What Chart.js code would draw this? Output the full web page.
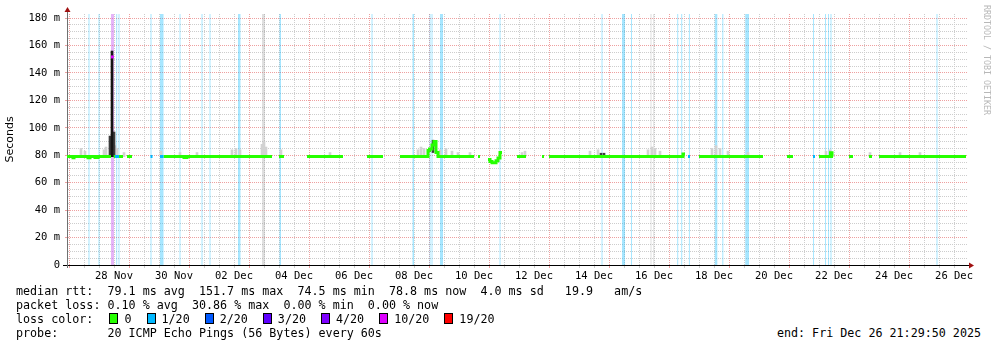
<!DOCTYPE html>
<html>
<head>
<meta charset="utf-8">
<title>smokeping 30 days</title>
<script src="https://cdn.jsdelivr.net/npm/chart.js@4.4.1/dist/chart.umd.min.js"></script>
<style>
  body { margin: 0; background: #fff; }
  #wrap { position: relative; width: 997px; height: 347px; overflow: hidden; background: #fff; }
  #graph { position: absolute; left: 0; top: 0; }
  .txt { position: absolute; left: 16px; font-family: "DejaVu Sans Mono", monospace; font-size: 11.7px; line-height: 14px; white-space: pre; color: #000; }
  .box { display: inline-block; width: 7px; height: 9px; border: 1px solid #000; vertical-align: -1px; margin-right: 6px; }
  .item { margin-right: 15px; }
  .item:first-of-type { margin-left: 2px; }
  #end { left: auto; right: 16px; }
  #credit { position: absolute; left: 982px; top: 5px; writing-mode: vertical-rl; font: 8.3px "DejaVu Sans Mono", monospace; color: #b8b8b8; }
</style>
</head>
<body>
<div id="wrap">
  <canvas id="graph" width="997" height="285"></canvas>
  <div id="credit">RRDTOOL / TOBI OETIKER</div>
  <div class="txt" style="top:284px">median rtt:  79.1 ms avg  151.7 ms max  74.5 ms min  78.8 ms now  4.0 ms sd   19.9   am/s</div>
  <div class="txt" style="top:298px">packet loss: 0.10 % avg  30.86 % max  0.00 % min  0.00 % now</div>
  <div class="txt" id="losscolor" style="top:312px">loss color:  </div>
  <div class="txt" style="top:326px">probe:       20 ICMP Echo Pings (56 Bytes) every 60s</div>
  <div class="txt" id="end" style="top:326px">end: Fri Dec 26 21:29:50 2025</div>
</div>
<script>
// x values are days counted from 1 Nov (so 31 = 1 Dec)
const xMin = 26.4, xMax = 56.433;
const yTop = 183;

const dayLabels = ["28 Nov", "30 Nov", "02 Dec", "04 Dec", "06 Dec", "08 Dec", "10 Dec", "12 Dec",
  "14 Dec", "16 Dec", "18 Dec", "20 Dec", "22 Dec", "24 Dec", "26 Dec"];
const rttLabels = ["0", "20 m", "40 m", "60 m", "80 m", "100 m", "120 m", "140 m", "160 m", "180 m"];

const lossLevels = ["0", "1/20", "2/20", "3/20", "4/20", "10/20", "19/20"];
const lossColors = ["#26ff00", "#00b8ff", "#0059ff", "#5e00ff", "#7e00ff", "#dd00ff", "#ff0000"];

// periods with packet loss [from, to]
const lossBands1 = [
  [27.117, 27.15], [27.45, 27.483], [28.04, 28.073], [28.117, 28.15], [29.183, 29.217],
  [29.5, 29.617], [30.15, 30.183], [30.883, 30.917], [31.15, 31.183], [32.1, 32.183],
  [33.483, 33.533], [36.55, 36.583], [37.917, 37.967], [38.483, 38.517],
  [38.55, 38.583], [38.833, 38.933], [40.817, 40.85], [44.217, 44.25], [44.9, 45.0],
  [45.2, 45.233], [46.74, 46.773], [46.873, 46.907],
  [47.13, 47.163], [47.993, 48.077], [48.243, 48.277], [49.007, 49.133], [51.267, 51.3],
  [51.667, 51.7], [51.767, 51.8], [51.85, 51.883], [55.383, 55.417]
];
const lossBands10 = [[27.867, 27.967]];
// periods the probe reported nothing usable
const unknownBands = [[32.9, 33.0], [45.85, 45.883], [45.94, 45.973]];

// median rtt in ms, one list per loss level, split where there is no data
const medianLoss0 = [
  [[26.4, 79.1], [26.6, 78.2], [26.633, 79.1], [27.1, 78.2], [27.167, 79.1], [27.333, 78.3], [27.433, 79.1], [27.867, 79.1]],
  [[27.957, 79.1], [28.0, 79.1]],
  [[28.133, 79.1], [28.267, 79.1]],
  [[28.4, 79.1], [28.567, 79.1]],
  [[29.617, 79.1], [30.3, 78.4], [30.4, 79.1], [33.233, 79.1]],
  [[33.467, 79.1], [33.633, 79.1]],
  [[34.4, 79.1], [35.6, 79.1]],
  [[36.4, 79.1], [36.933, 79.1]],
  [[37.5, 79.1], [38.433, 83.5], [38.483, 84.5], [38.567, 87.5], [38.633, 90], [38.7, 82], [38.767, 79.1], [39.967, 79.1]],
  [[40.1, 79.1], [40.167, 79.1]],
  [[40.433, 77], [40.5, 75.5], [40.567, 74.5], [40.7, 76], [40.767, 78], [40.833, 82], [40.9, 82]],
  [[41.4, 79.1], [41.7, 79.1]],
  [[42.233, 79.1], [42.3, 79.1]],
  [[42.467, 79.1], [46.933, 81], [47.0, 81]],
  [[47.467, 79.1], [49.6, 79.1]],
  [[50.4, 79.1], [50.6, 79.1]],
  [[51.467, 79.1], [51.85, 81.8], [51.9, 79.1], [51.933, 79.1]],
  [[52.467, 79.1], [52.6, 79.1]],
  [[53.133, 79.1], [53.233, 79.1]],
  [[53.467, 79.1], [56.367, 79.1]]
];
const medianLoss1 = [
  [[28.0, 79.1], [28.133, 79.1]],
  [[29.183, 79.1], [29.25, 79.1]],
  [[29.5, 79.1], [29.617, 79.1]],
  [[47.1, 79.1], [47.167, 79.1]],
  [[51.267, 79.1], [51.333, 79.1]]
];
const medianLoss10 = [
  [[27.867, 151.7], [27.957, 151.7]]
];

// ping spread around the median [time, low, high]
const smokeLight = [
  [26.867, 79, 85], [27.0, 79, 83], [27.633, 79, 84], [27.7, 79, 86], [28.0, 79, 87], [28.067, 79, 85],
  [28.3, 79, 82], [29.533, 79, 83], [30.167, 79, 82], [30.733, 79, 82], [31.9, 79, 84], [32.033, 79, 85],
  [32.167, 79, 84], [32.9, 79, 88], [32.967, 79, 90], [33.033, 79, 86], [33.533, 79, 84], [35.167, 79, 82],
  [38.1, 79, 84], [38.2, 79, 86], [38.3, 79, 85], [38.833, 79, 84], [39.033, 79, 85], [39.233, 79, 83],
  [39.433, 79, 82], [39.833, 79, 82], [41.567, 79, 82], [41.667, 79, 83], [43.833, 79, 83], [44.1, 79, 84],
  [45.767, 79, 84], [45.9, 79, 86], [46.0, 79, 85], [46.167, 79, 83], [47.9, 79, 85], [48.033, 79, 87],
  [48.167, 79, 85], [48.433, 79, 83], [49.1, 79, 82], [51.7, 79, 83], [51.833, 79, 84], [53.167, 79, 82],
  [54.167, 79, 82], [54.833, 79, 82]
];
const smokeDark = [
  [27.833, 79, 94], [27.967, 79, 97], [27.9, 79, 156], [38.6, 82, 91], [44.2, 79.5, 81.5], [44.3, 79.5, 81.5]
];

const majorGrid = "#eea0a0";
const minorGrid = "#cdcdcd";

function toPoints(segments) {
  const pts = [];
  segments.forEach((seg, i) => {
    if (i > 0) pts.push({ x: seg[0][0], y: null });
    seg.forEach(p => pts.push({ x: p[0], y: p[1] }));
  });
  return pts;
}

function bandPoints(bands) {
  const pts = [{ x: xMin, y: 0 }];
  bands.forEach(b => {
    pts.push({ x: b[0], y: yTop });
    pts.push({ x: b[1], y: 0 });
  });
  pts.push({ x: xMax, y: 0 });
  return pts;
}

function medianSet(segments, color) {
  return {
    type: "line", data: toPoints(segments), stepped: true, borderColor: color, borderWidth: 3,
    borderCapStyle: "butt", pointRadius: 0, fill: false, spanGaps: false, order: 1
  };
}

function bandSet(bands, fillColor) {
  return {
    type: "line", data: bandPoints(bands), stepped: true, borderColor: "transparent", borderWidth: 0,
    backgroundColor: fillColor, fill: "origin", pointRadius: 0, order: 3
  };
}

const smokePts = smokeLight.map(s => ({ x: s[0], y: [s[1], s[2]] }))
  .concat(smokeDark.map(s => ({ x: s[0], y: [s[1], s[2]] })));
const smokeCols = smokeLight.map(() => "#d2d2d2").concat(smokeDark.map(s => s[2] > 120 ? "#141414" : "#3c3c3c"));

// legend boxes
const lc = document.getElementById("losscolor");
lossLevels.forEach((lvl, i) => {
  const span = document.createElement("span");
  span.className = "item";
  span.innerHTML = '<span class="box" style="background:' + lossColors[i] + '"></span>' + lvl;
  lc.appendChild(span);
});

const xTickValues = [];
for (let v = 26.467; v <= xMax; v += 0.5) xTickValues.push(v);
const yTickValues = [];
for (let v = 0; v <= 180; v += 5) yTickValues.push(v);

const axisArrows = {
  id: "axisArrows",
  afterDraw(chart) {
    const { ctx, chartArea: a } = chart;
    ctx.save();
    ctx.strokeStyle = "#000";
    ctx.lineWidth = 1;
    ctx.beginPath();
    ctx.moveTo(a.left - 4, a.bottom + 0.5); ctx.lineTo(a.left, a.bottom + 0.5);
    ctx.moveTo(a.right, a.bottom + 0.5); ctx.lineTo(a.right + 2, a.bottom + 0.5);
    ctx.stroke();
    ctx.strokeStyle = "#707070";
    ctx.beginPath();
    ctx.moveTo(a.left + 0.5, a.top - 3); ctx.lineTo(a.left + 0.5, a.top);
    ctx.moveTo(a.left + 0.5, a.bottom); ctx.lineTo(a.left + 0.5, a.bottom + 3);
    ctx.stroke();
    ctx.fillStyle = "#a01010";
    ctx.beginPath();
    ctx.moveTo(a.left - 2.5, a.top - 2); ctx.lineTo(a.left + 0.5, a.top - 7); ctx.lineTo(a.left + 3.5, a.top - 2);
    ctx.closePath(); ctx.fill();
    ctx.beginPath();
    ctx.moveTo(a.right + 1, a.bottom - 2.5); ctx.lineTo(a.right + 6, a.bottom + 0.5); ctx.lineTo(a.right + 1, a.bottom + 3.5);
    ctx.closePath(); ctx.fill();
    ctx.restore();
  }
};

new Chart(document.getElementById("graph"), {
  type: "line",
  data: {
    datasets: [
      medianSet(medianLoss10, lossColors[5]),
      medianSet(medianLoss1, lossColors[1]),
      medianSet(medianLoss0, lossColors[0]),
      {
        type: "bar", data: smokePts, backgroundColor: smokeCols, borderWidth: 0,
        barThickness: 2, grouped: true, order: 2
      },
      bandSet(lossBands10, "rgba(200, 90, 240, 0.45)"),
      bandSet(unknownBands, "rgba(150, 150, 150, 0.3)"),
      bandSet(lossBands1, "rgba(0, 184, 255, 0.35)")
    ]
  },
  options: {
    responsive: false,
    animation: false,
    devicePixelRatio: 1,
    layout: { padding: { left: 0, top: 14, right: 29, bottom: 0 } },
    plugins: { legend: { display: false }, tooltip: { enabled: false } },
    scales: {
      x: {
        type: "linear", min: xMin, max: xMax, offset: false, z: 1,
        afterBuildTicks: s => { s.ticks = xTickValues.map(v => ({ value: v })); },
        afterFit: s => { s.height = 20; },
        grid: {
          offset: false, lineWidth: 1, tickLength: 3,
          color: c => c.index % 4 === 0 ? majorGrid : minorGrid,
          tickColor: c => c.index % 4 === 0 ? majorGrid : minorGrid
        },
        border: { color: "#000", width: 1, dash: [1, 1] },
        ticks: {
          autoSkip: false, maxRotation: 0, padding: 2, color: "#000",
          font: { family: "DejaVu Sans Mono", size: 10.5 },
          callback: (v, i) => i % 4 === 3 ? dayLabels[(i - 3) / 4] : ""
        }
      },
      y: {
        type: "linear", min: 0, max: yTop, stacked: false, z: 1,
        afterBuildTicks: s => { s.ticks = yTickValues.map(v => ({ value: v })); },
        afterFit: s => { s.width = 67; },
        grid: {
          lineWidth: 1, tickLength: 2,
          color: c => c.tick.value === 0 ? "rgba(0,0,0,0)" : (c.tick.value % 20 === 0 ? majorGrid : minorGrid),
          tickColor: c => c.tick.value % 20 === 0 ? majorGrid : "rgba(0,0,0,0)"
        },
        border: { color: "#707070", width: 1, dash: [1, 1] },
        title: {
          display: true, text: "Seconds", color: "#000",
          font: { family: "DejaVu Sans", size: 11 }, padding: { top: 4, bottom: 0 }
        },
        ticks: {
          autoSkip: false, padding: 5, color: "#000",
          font: { family: "DejaVu Sans Mono", size: 10.5 },
          callback: v => v % 20 === 0 ? rttLabels[v / 20] : ""
        }
      }
    }
  },
  plugins: [axisArrows]
});
</script>
</body>
</html>
